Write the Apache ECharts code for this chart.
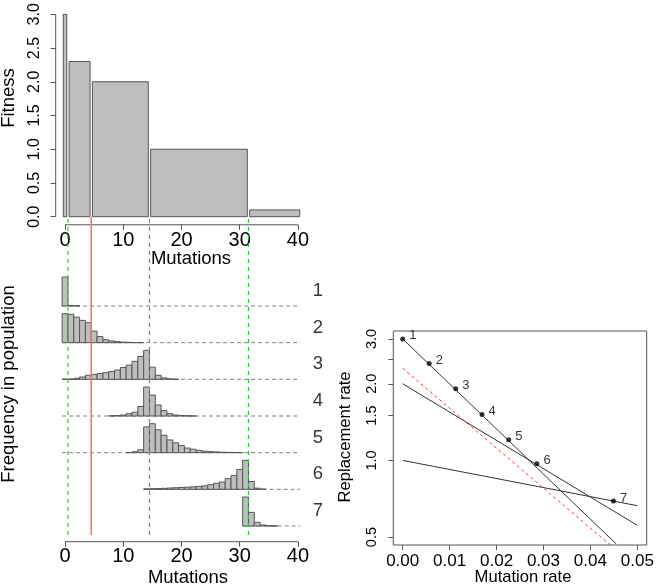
<!DOCTYPE html>
<html><head><meta charset="utf-8">
<script src="https://cdn.jsdelivr.net/npm/echarts@6/dist/echarts.min.js"></script>
<style>html,body{margin:0;padding:0;background:#fff}#c{width:660px;height:587px}</style>
</head><body><div id="c"></div>
<script>
// ---------- data ----------
const xTicks = [0, 10, 20, 30, 40];
const fitnessTicks = [0, 0.5, 1.0, 1.5, 2.0, 2.5, 3.0];
// fitness landscape: [first mutation count, last mutation count] and fitness
const fitnessRanges = [[0, 0], [1, 4], [5, 14], [15, 31], [32, 40]];
const fitnessValues = [3.0, 2.3, 2.0, 1.0, 0.1];
const thresholdLines = [0.5, 14.5, 31.5];
const optimumLine = 4.5;
// population distributions (relative to each row's peak)
const rowNames = ['1', '2', '3', '4', '5', '6', '7'];
const rowFirstBin = [0, 0, 0, 8, 11, 14, 31];
const rowLineStart = [0, 0, 0, 0, 0, 14, 31];
const dist1 = [1.0, 0.02, 0.005];
const dist2 = [1.0, 0.98, 0.88, 0.77, 0.69, 0.40, 0.21, 0.10, 0.06, 0.035, 0.02, 0.012, 0.006, 0.003];
const dist3 = [0.005, 0.01, 0.035, 0.08, 0.14, 0.17, 0.20, 0.23, 0.27, 0.32, 0.41, 0.49, 0.62, 0.79, 1.0, 0.42, 0.14, 0.05, 0.015, 0.005];
const dist4 = [0.005, 0.015, 0.035, 0.08, 0.13, 0.33, 1.0, 0.72, 0.38, 0.19, 0.08, 0.035, 0.015, 0.007, 0.003];
const dist5 = [0.005, 0.03, 0.10, 0.89, 1.0, 0.79, 0.60, 0.44, 0.34, 0.25, 0.16, 0.12, 0.08, 0.05, 0.035, 0.025, 0.015, 0.01, 0.006, 0.003];
const dist6 = [0.015, 0.02, 0.025, 0.035, 0.045, 0.055, 0.065, 0.075, 0.085, 0.10, 0.12, 0.16, 0.21, 0.25, 0.37, 0.48, 0.69, 1.0, 0.27, 0.04, 0.01];
const dist7 = [1.0, 0.47, 0.13, 0.035, 0.01, 0.003];
// replacement rate panel
const rateTicks = [0, 0.01, 0.02, 0.03, 0.04, 0.05];
const replTickValues = [0.5, 1.0, 1.5, 2.0, 2.5, 3.0];
const replLabelValues = [0.5, 1.0, 1.5, 2.0, 3.0];
const line1 = [[0, 3.0], [0.0455, 0.47]];
const line2 = [[0, 2.0], [0.05, 0.556]];
const line3 = [[0, 1.0], [0.05, 0.664]];
const redLine = [[0, 2.3], [0.0442, 0.466]];
const eqRates = [0, 0.00565, 0.0113, 0.0169, 0.0226, 0.0286, 0.0449];
const eqReplacement = [3.0, 2.4, 1.91, 1.515, 1.205, 0.97, 0.693];

// ---------- build ----------
const FF = "'Liberation Sans', Arial, Helvetica, sans-serif";
const dists = [dist1, dist2, dist3, dist4, dist5, dist6, dist7];
const ROW_SCALE = 0.79;
const BOT_MIN = -0.428, BOT_MAX = 8.427;
const barsData = [];
dists.forEach((d, r) => {
  const base = 6 - r;
  d.forEach((v, i) => barsData.push([rowFirstBin[r] + i, base, v]));
});
const ln = Math.log;
const L = arr => arr.map(p => [p[0], ln(p[1])]);

const axisCol = '#555';
const series = [];
// top fitness bars
series.push({
  type: 'custom', xAxisIndex: 0, yAxisIndex: 0,
  data: fitnessRanges.map((r, i) => [r[0], r[1], fitnessValues[i]]),
  renderItem: (p, api) => {
    const a = api.coord([api.value(0) - 0.3, 0]);
    const b = api.coord([api.value(1) + 0.3, api.value(2)]);
    return {type: 'rect', shape: {x: a[0], y: b[1], width: b[0] - a[0], height: a[1] - b[1]},
      style: {fill: '#bebebe', stroke: '#555', lineWidth: 1}};
  }, z: 2
});
// top axes lines
series.push({type: 'line', xAxisIndex: 0, yAxisIndex: 0, data: [[0, -0.12], [40, -0.12]], symbol: 'none', clip: false,
  lineStyle: {color: axisCol, width: 1}, silent: true});
series.push({type: 'line', xAxisIndex: 0, yAxisIndex: 0, data: [[-1.6, 0], [-1.6, 3]], symbol: 'none', clip: false,
  lineStyle: {color: axisCol, width: 1}, silent: true});
// bottom: dashed baselines
dists.forEach((d, r) => {
  series.push({type: 'line', xAxisIndex: 1, yAxisIndex: 1, symbol: 'none', clip: false, silent: true,
    data: [[rowLineStart[r] - 0.5, 6 - r], [40.4, 6 - r]],
    lineStyle: {color: '#808080', width: 1, type: [4, 3]}, z: 1});
});
// bottom bars
series.push({
  type: 'custom', xAxisIndex: 1, yAxisIndex: 1, data: barsData, z: 2,
  renderItem: (p, api) => {
    const k = api.value(0), base = api.value(1), h = api.value(2);
    const a = api.coord([k - 0.5, base]);
    const b = api.coord([k + 0.5, base + h * ROW_SCALE]);
    return {type: 'rect', shape: {x: a[0], y: b[1], width: b[0] - a[0], height: a[1] - b[1]},
      style: {fill: '#bebebe', stroke: '#555', lineWidth: 1}};
  }
});
// bottom axis line
series.push({type: 'line', xAxisIndex: 1, yAxisIndex: 1, data: [[0, BOT_MIN], [40, BOT_MIN]], symbol: 'none', clip: false,
  lineStyle: {color: axisCol, width: 1}, silent: true});
// row labels
series.push({type: 'scatter', xAxisIndex: 1, yAxisIndex: 1, symbolSize: 0, clip: false, silent: true,
  data: rowNames.map((n, r) => [43.4, 6 - r + 0.41, n]),
  label: {show: true, position: 'inside', formatter: p => p.data[2], fontSize: 18.5, color: '#000', fontFamily: FF}});
// vertical reference lines (threshold lines, one series)
series.push({type: 'custom', xAxisIndex: 1, yAxisIndex: 1, silent: true, z: 5,
  data: thresholdLines.map(x => [x]),
  renderItem: (p, api) => {
    const a = api.coord([api.value(0), -0.245]);
    const b = api.coord([api.value(0), BOT_MAX]);
    return {type: 'line', shape: {x1: a[0], y1: a[1], x2: b[0], y2: b[1]},
      style: {stroke: '#22cc22', lineWidth: 1.2, lineDash: [4, 4]}};
  }});
series.push({type: 'line', xAxisIndex: 1, yAxisIndex: 1, symbol: 'none', clip: false, silent: true, z: 5,
  data: [[optimumLine, -0.245], [optimumLine, BOT_MAX]], lineStyle: {color: '#ff7070', width: 1.6}});
// right panel
[line1, line2, line3].forEach(l => series.push({type: 'line', xAxisIndex: 2, yAxisIndex: 2, symbol: 'none', silent: true,
  data: L(l), lineStyle: {color: '#333', width: 1}}));
series.push({type: 'line', xAxisIndex: 2, yAxisIndex: 2, symbol: 'none', silent: true,
  data: L(redLine), lineStyle: {color: '#ff3333', width: 1, type: [3, 3]}});
series.push({type: 'scatter', xAxisIndex: 2, yAxisIndex: 2, symbolSize: 5, silent: true, z: 4,
  itemStyle: {color: '#000'},
  data: eqRates.map((u, i) => [u, ln(eqReplacement[i]), rowNames[i]]),
  label: {show: true, position: 'right', distance: 4, offset: [0, -3], formatter: p => p.data[2], fontSize: 13, color: '#000', fontFamily: FF}});

const tickStyle = {show: true, length: 5, inside: false, lineStyle: {color: axisCol}};
const noLine = {show: false, onZero: false};
const option = {
  animation: false,
  backgroundColor: '#fff',
  grid: [
    {left: 55.7, top: 6.2, width: 251.6, height: 218.6, containLabel: false, outerBoundsMode: 'none'},
    {left: 55.7, top: 217, width: 251.6, height: 324.7, containLabel: false, outerBoundsMode: 'none'},
    {left: 393.3, top: 331, width: 253.4, height: 214, show: true, borderColor: axisCol, borderWidth: 1, containLabel: false, outerBoundsMode: 'none'}
  ],
  xAxis: [
    {gridIndex: 0, type: 'value', position: 'bottom', min: -1.6, max: 41.6, axisLine: noLine, splitLine: {show: false},
      axisTick: Object.assign({customValues: xTicks}, tickStyle),
      axisLabel: {customValues: xTicks, margin: 6, fontSize: 20, color: '#000', fontFamily: FF}},
    {gridIndex: 1, type: 'value', position: 'bottom', min: -1.6, max: 41.6, axisLine: noLine, splitLine: {show: false},
      axisTick: Object.assign({customValues: xTicks}, tickStyle),
      axisLabel: {customValues: xTicks, margin: 5, fontSize: 20, color: '#000', fontFamily: FF}},
    {gridIndex: 2, type: 'value', position: 'bottom', min: -0.002, max: 0.052, axisLine: noLine, splitLine: {show: false},
      axisTick: Object.assign({customValues: rateTicks}, tickStyle),
      axisLabel: {customValues: rateTicks, margin: 8, fontSize: 17, color: '#000', fontFamily: FF, formatter: v => v.toFixed(2)}}
  ],
  yAxis: [
    {gridIndex: 0, type: 'value', position: 'left', min: -0.12, max: 3.12, axisLine: noLine, splitLine: {show: false},
      axisTick: Object.assign({customValues: fitnessTicks}, tickStyle),
      axisLabel: {customValues: fitnessTicks, rotate: 90, margin: 13.5, fontSize: 16, color: '#000', fontFamily: FF, formatter: v => v.toFixed(1)}},
    {gridIndex: 1, type: 'value', min: BOT_MIN, max: BOT_MAX, show: false, axisLine: noLine},
    {gridIndex: 2, type: 'value', position: 'left', min: -0.7648, max: 1.1702, axisLine: noLine, splitLine: {show: false},
      axisTick: Object.assign({customValues: replTickValues.map(ln)}, tickStyle),
      axisLabel: {customValues: replLabelValues.map(ln), rotate: 90, margin: 13.5, fontSize: 14.5, color: '#000', fontFamily: FF,
        formatter: v => Math.exp(v).toFixed(1)}}
  ],
  graphic: [
    {type: 'text', x: 9, y: 98, rotation: Math.PI / 2, style: {text: 'Fitness', fontSize: 18.5, fontFamily: FF, fill: '#000', align: 'center', verticalAlign: 'middle'}},
    {type: 'text', x: 191, y: 258.5, style: {text: 'Mutations', fontSize: 18.5, fontFamily: FF, fill: '#000', align: 'center', verticalAlign: 'middle'}},
    {type: 'text', x: 9, y: 384, rotation: Math.PI / 2, style: {text: 'Frequency in population', fontSize: 18.5, fontFamily: FF, fill: '#000', align: 'center', verticalAlign: 'middle'}},
    {type: 'text', x: 188, y: 578, style: {text: 'Mutations', fontSize: 18.5, fontFamily: FF, fill: '#000', align: 'center', verticalAlign: 'middle'}},
    {type: 'text', x: 345, y: 437, rotation: Math.PI / 2, style: {text: 'Replacement rate', fontSize: 16.6, fontFamily: FF, fill: '#000', align: 'center', verticalAlign: 'middle'}},
    {type: 'text', x: 523, y: 577, style: {text: 'Mutation rate', fontSize: 16.6, fontFamily: FF, fill: '#000', align: 'center', verticalAlign: 'middle'}}
  ],
  series
};
const chart = echarts.init(document.getElementById('c'), null, {renderer: 'canvas'});
chart.setOption(option);
</script></body></html>
